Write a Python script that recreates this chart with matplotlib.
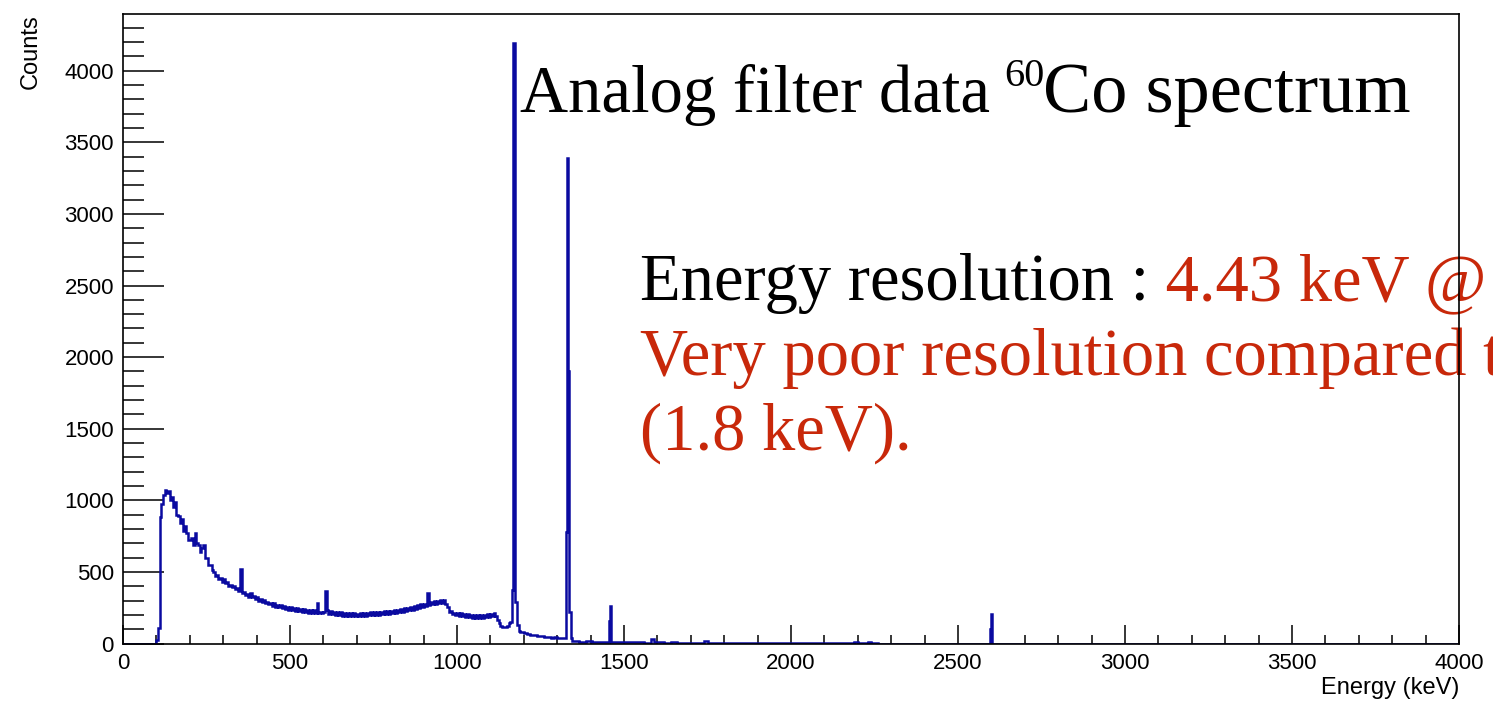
import numpy as np
import matplotlib
matplotlib.use("Agg")
import matplotlib.pyplot as plt
from matplotlib.ticker import MultipleLocator

# 60Co spectrum, analog shaping filter
# continuum below the 1173 keV line, 5 keV bins starting at 90 keV
cont_start = 90
cont_width = 5
cont_counts = [
    0, 0, 25, 110, 880, 975, 1035, 1075, 1050, 1065,
    1000, 1025, 950, 985, 895, 890, 840, 870, 785, 820,
    770, 725, 720, 735, 690, 775, 705, 690, 640, 665,
    690, 600, 595, 550, 548, 512, 500, 470, 480, 448,
    458, 432, 452, 422, 428, 402, 412, 392, 402, 378,
    388, 366, 520, 352, 360, 340, 348, 328, 352, 322,
    330, 310, 328, 300, 310, 290, 306, 282, 290, 278,
    284, 264, 280, 256, 272, 252, 268, 246, 262, 242,
    257, 236, 252, 232, 250, 228, 245, 226, 243, 222,
    239, 218, 237, 216, 233, 214, 231, 212, 280, 214,
    223, 212, 222, 365, 232, 205, 225, 203, 221, 200,
    219, 198, 217, 195, 215, 193, 213, 192, 211, 191,
    210, 190, 209, 191, 212, 193, 214, 194, 216, 196,
    217, 198, 219, 200, 221, 202, 223, 204, 225, 206,
    227, 208, 229, 211, 233, 214, 237, 219, 241, 222,
    245, 227, 249, 231, 255, 237, 261, 243, 267, 249,
    273, 255, 279, 261, 350, 270, 291, 273, 297, 279,
    299, 281, 305, 283, 301, 279, 255, 218, 225, 205,
    216, 197, 214, 193, 210, 189, 206, 185, 203, 183,
    201, 181, 199, 179, 197, 178, 199, 180, 202, 183,
    205, 186, 209, 189, 215, 193, 165, 140, 122, 115,
    112, 118, 125, 140,
]

# photopeaks and the high-energy tail, variable bin edges (left edge of each bin)
tail_lo = [1160, 1165, 1169, 1175, 1179, 1185, 1190, 1200, 1210, 1220,
           1230, 1240, 1250, 1260, 1270, 1280, 1290, 1300, 1310, 1320,
           1326, 1330, 1332, 1336, 1340, 1345, 1365, 1385, 1405, 1425,
           1445, 1456, 1459, 1462, 1480, 1500, 1520, 1540, 1560, 1580,
           1590, 1600, 1620, 1640, 1660, 1680, 1700, 1720, 1740, 1750,
           1760, 1780, 1800, 1820, 1840, 1860, 1880, 1900, 1920, 1940,
           1960, 1980, 2000, 2050, 2100, 2150, 2190, 2200, 2230, 2240,
           2260, 2300, 2400, 2500, 2597, 2600, 2603, 2700, 3000]
tail_counts = [150, 374, 4190, 290, 130, 85, 80, 70, 68, 58,
               57, 50, 50, 44, 46, 40, 42, 36, 38, 40,
               780, 3390, 1900, 220, 40, 20, 13, 15, 10, 12,
               9, 157, 262, 12, 8, 10, 7, 9, 6, 30,
               8, 7, 6, 7, 6, 5, 6, 5, 18, 5,
               6, 4, 5, 4, 5, 4, 6, 4, 5, 3,
               4, 3, 2, 1, 2, 1, 10, 1, 8, 1,
               0, 0, 0, 0, 100, 206, 0, 0, 0]
e_max = 4000

cont_lo = list(range(cont_start, cont_start + cont_width * len(cont_counts), cont_width))
edges = np.array([0] + cont_lo + tail_lo + [e_max], dtype=float)
counts = np.array([0] + cont_counts + tail_counts, dtype=float)
assert len(edges) == len(counts) + 1

W, H = 1493, 701
fig = plt.figure(figsize=(W / 100, H / 100), dpi=100)
ax = fig.add_axes([123 / W, 1 - 643.5 / H, (1459 - 123) / W, (643.5 - 14) / H])

ax.stairs(counts, edges, color='#0a0aa0', lw=1.8, zorder=3)

ax.set_xlim(0, 4000)
ax.set_ylim(0, 4396)
ax.xaxis.set_major_locator(MultipleLocator(500))
ax.xaxis.set_minor_locator(MultipleLocator(100))
ax.yaxis.set_major_locator(MultipleLocator(500))
ax.yaxis.set_minor_locator(MultipleLocator(100))
for s in ax.spines.values():
    s.set_linewidth(1.2)
    s.set_zorder(4)

ax.tick_params(axis='both', which='both', direction='in', width=1.1,
               labelsize=16, pad=6.5, top=False, right=False)
ax.tick_params(axis='x', which='major', length=13.7)
ax.tick_params(axis='x', which='minor', length=6.5)
ax.tick_params(axis='y', which='major', length=29.5)
ax.tick_params(axis='y', which='minor', length=15)
for lab in ax.get_xticklabels() + ax.get_yticklabels():
    lab.set_family('Liberation Sans')

fig.text(31 / W, 1 - 14 / H, 'Counts', rotation=90, ha='center', va='top',
         fontsize=17, family='Liberation Sans')
fig.text(1459 / W, 1 - 694 / H, 'Energy (keV)', ha='right', va='baseline',
         fontsize=17, family='Liberation Sans')

# slide annotations laid over the histogram
serif = 'Liberation Serif'
red = '#c8280a'
fs = 48


def note(x, y, s, color='black', size=fs):
    return ax.text(x / W, 1 - y / H, s, transform=fig.transFigure, ha='left',
                   va='baseline', fontsize=size, family=serif, color=color,
                   clip_on=False, zorder=2)


note(520, 112, 'Analog filter data', size=48)
note(1004, 86, '60', size=29)
note(1043, 112, 'Co spectrum', size=52)
t_res = note(640, 300, 'Energy resolution :')
ax.annotate(' 4.43 keV @', xy=(1, 0), xycoords=t_res, ha='left',
            va='bottom', fontsize=fs, family=serif, color=red,
            annotation_clip=False, zorder=2)
note(640, 375, 'Very poor resolution compared to', color=red)
note(640, 450, '(1.8 keV).', color=red)

fig.savefig('out.png', dpi=100)
